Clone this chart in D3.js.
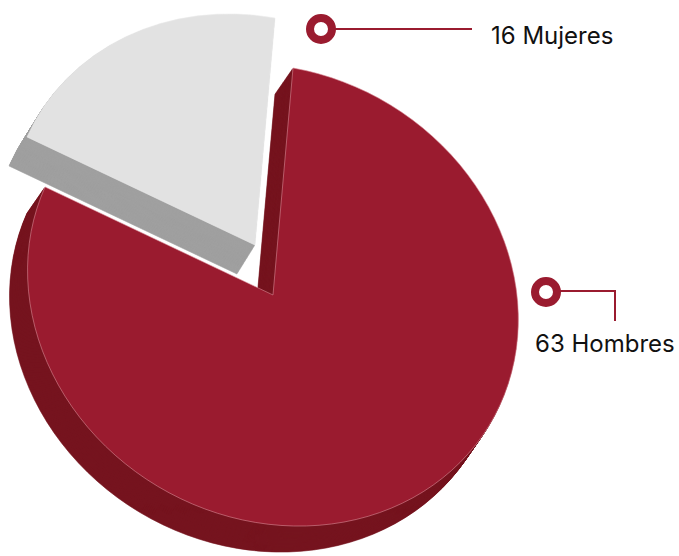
<!DOCTYPE html>
<html>
<head>
<meta charset="utf-8">
<script src="https://cdn.jsdelivr.net/npm/d3@7"></script>
<style>
  html, body { margin: 0; padding: 0; background: #fff; }
  text { font-family: Inter, "Noto Sans", sans-serif; }
</style>
</head>
<body>
<div id="chart"></div>
<script>
// Data
const categories = ["Hombres", "Mujeres"];
const values = [63, 16];
const labels = ["63 Hombres", "16 Mujeres"];

// Colors (top face / side face)
const topColors = ["#9a1b2f", "#e2e2e2"];
const sideColors = ["#76141f", "#a0a0a0"];

// Canvas
const width = 679, height = 556;
const cx = 273, cy = 295;          // center of the pie top face
const depthSteps = 28;

// affine tilt of the disc (unit circle -> screen)
const tilt = [244.6, 43.2, -20, 227];

const svg = d3.select("#chart")
    .append("svg")
    .attr("width", width)
    .attr("height", height);

const pie = d3.pie().sort(null).value(d => d);
const arcs = pie(values);

const arc = d3.arc().innerRadius(0).outerRadius(1);

// offset of each slice (Mujeres pulled out) and its extrusion
const explode = [[0, 0], [-18, -50]];
const depth = [[-18, 26], [-18, 29]];

arcs.forEach((a, i) => {
    const g = svg.append("g").attr("class", "slice-" + categories[i]);
    const ex = explode[i][0], ey = explode[i][1];

    // side: stacked copies of the face
    for (let k = depthSteps; k >= 1; k--) {
        const ox = cx + ex + depth[i][0] * k / depthSteps;
        const oy = cy + ey + depth[i][1] * k / depthSteps;
        g.append("path")
            .attr("d", arc(a))
            .attr("transform", `matrix(${tilt[0]},${tilt[1]},${tilt[2]},${tilt[3]},${ox},${oy})`)
            .attr("fill", sideColors[i])
            .attr("stroke", sideColors[i])
            .attr("stroke-width", 0.6)
            .attr("vector-effect", "non-scaling-stroke");
    }

    // top face
    g.append("path")
        .attr("d", arc(a))
        .attr("transform", `matrix(${tilt[0]},${tilt[1]},${tilt[2]},${tilt[3]},${cx + ex},${cy + ey})`)
        .attr("fill", topColors[i])
        .attr("stroke", i === 0 ? "#d98a96" : "#ececec")
        .attr("stroke-width", 0.6)
        .attr("vector-effect", "non-scaling-stroke");
});

// Callouts
const callouts = [
    { ring: [546, 292], path: [[556, 291], [615, 291], [615, 321]], text: [535, 352] },
    { ring: [321, 29], path: [[331, 29], [472, 29]], text: [491, 44] }
];

callouts.forEach((c, i) => {
    svg.append("path")
        .attr("d", d3.line()(c.path))
        .attr("fill", "none")
        .attr("stroke", "#9a1b2f")
        .attr("stroke-width", 2);

    svg.append("circle")
        .attr("cx", c.ring[0])
        .attr("cy", c.ring[1])
        .attr("r", 11)
        .attr("fill", "#fff")
        .attr("stroke", "#9a1b2f")
        .attr("stroke-width", 8);

    svg.append("text")
        .attr("x", c.text[0])
        .attr("y", c.text[1])
        .attr("font-size", 24)
        .attr("fill", "#111")
        .text(labels[i]);
});
</script>
</body>
</html>
